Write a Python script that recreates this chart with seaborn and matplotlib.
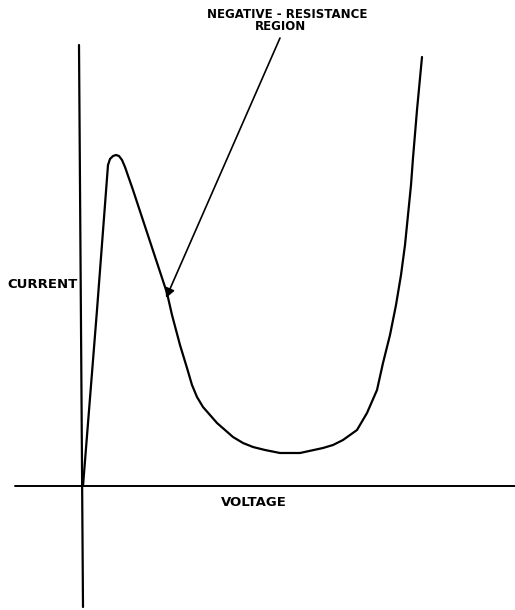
import numpy as np
import pandas as pd
import seaborn as sns
import matplotlib.pyplot as plt

# I-V curve (arbitrary units)
voltage = [0.0, 1.4, 2.5, 2.7, 3.0, 3.3, 3.6, 3.9, 4.2, 5.0, 8.4, 8.9, 9.7, 10.4,
           10.9, 11.4, 12.0, 13.4, 15.0, 16.0, 17.0, 18.2, 19.7, 21.7, 24.0, 25.0,
           26.0, 27.4, 28.4, 29.4, 30.0, 30.7, 31.3, 31.8, 32.2, 32.5, 32.8, 33.0,
           33.4, 33.9]
current = [0.0, 17.6, 32.1, 32.7, 33.0, 33.1, 33.0, 32.6, 31.9, 29.6, 19.3, 17.1,
           14.1, 11.8, 10.1, 8.9, 7.9, 6.3, 4.9, 4.3, 3.9, 3.6, 3.3, 3.3, 3.8, 4.1,
           4.6, 5.6, 7.3, 9.6, 12.3, 15.1, 18.1, 21.1, 24.1, 27.1, 30.1, 32.8,
           37.6, 42.9]

x_label = "VOLTAGE"
y_label = "CURRENT"
note_lines = ["NEGATIVE - RESISTANCE", "REGION"]

df = pd.DataFrame({"voltage": voltage, "current": current})

sns.set_style("white")
plt.rcParams['font.family'] = ['DejaVu Sans']

fig = plt.figure(figsize=(5.15, 6.10), dpi=100)
ax = fig.add_axes([0, 0, 1, 1])

sns.lineplot(data=df, x="voltage", y="current", sort=False, estimator=None,
             color="black", linewidth=1.6, ax=ax)
ax.lines[-1].set_solid_joinstyle("round")

# hand-drawn axes
ax.plot([-6.8, 43.2], [0, 0], color="black", linewidth=1.4)
ax.plot([-0.4, 0.0], [44.1, -12.1], color="black", linewidth=1.6)

ax.set_xlim(-8.3, 43.2)
ax.set_ylim(-12.4, 48.6)
ax.axis("off")

ax.text(-7.6, 20.1, y_label, fontsize=9.5, fontweight="bold", color="black",
        ha="left", va="center")
ax.text(17.1, -1.6, x_label, fontsize=9.5, fontweight="bold", color="black",
        ha="center", va="center")
ax.text(20.4, 47.2, note_lines[0], fontsize=8.5, fontweight="bold", color="black",
        ha="center", va="center")
ax.text(19.8, 45.9, note_lines[1], fontsize=8.5, fontweight="bold", color="black",
        ha="center", va="center")

ax.annotate("", xy=(8.3, 18.8), xytext=(19.7, 44.8),
            arrowprops=dict(arrowstyle="-|>", color="black", lw=1.2,
                            mutation_scale=14, shrinkA=0, shrinkB=0))

plt.savefig("out.png", dpi=100)
